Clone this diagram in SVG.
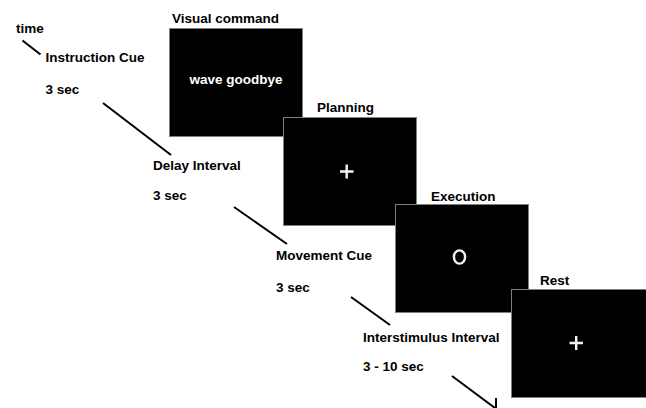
<svg xmlns="http://www.w3.org/2000/svg" width="646" height="408" viewBox="0 0 646 408">
<style>
  .lbl { font-family: "Liberation Sans", Arial, sans-serif; font-weight: bold; font-size: 13.5px; fill: #000; }
  .inner { font-family: "Liberation Sans", Arial, sans-serif; font-weight: bold; font-size: 13.5px; fill: #fff; }
  .screen { fill: #000; stroke: #808080; stroke-width: 1; }
  .sym { stroke: #f4f4f4; stroke-width: 2.4; fill: none; }
  .tl { stroke: #000; stroke-width: 2; fill: none; }
</style>
<rect width="646" height="408" fill="#fff"/>

<g id="timeline-labels">
  <text class="lbl" x="16" y="33">time</text>
  <text class="lbl" x="45.5" y="62">Instruction Cue</text>
  <text class="lbl" x="45.5" y="94">3 sec</text>
  <text class="lbl" x="153" y="170">Delay Interval</text>
  <text class="lbl" x="153" y="200">3 sec</text>
  <text class="lbl" x="276" y="260">Movement Cue</text>
  <text class="lbl" x="276" y="292">3 sec</text>
  <text class="lbl" x="363" y="342">Interstimulus Interval</text>
  <text class="lbl" x="363" y="371">3 - 10 sec</text>
</g>

<g id="connectors">
  <line class="tl" x1="22.5" y1="40.5" x2="40.5" y2="54.5"/>
  <line class="tl" x1="103" y1="103" x2="171" y2="155"/>
  <line class="tl" x1="234" y1="207" x2="287" y2="244"/>
  <line class="tl" x1="351" y1="297" x2="390" y2="325"/>
  <line class="tl" x1="452" y1="376" x2="495" y2="408"/>
  <line class="tl" x1="496" y1="398" x2="496" y2="408"/>
</g>

<g id="visual-command">
  <text class="lbl" x="172" y="23">Visual command</text>
  <rect class="screen" x="169.5" y="28.5" width="133" height="108"/>
  <text class="inner" x="236" y="84" text-anchor="middle">wave goodbye</text>
</g>

<g id="planning">
  <text class="lbl" x="317" y="112">Planning</text>
  <rect class="screen" x="283.5" y="117.5" width="133" height="108"/>
  <path class="sym" d="M340 171.5 H353.5 M346.7 164.5 V178.5"/>
</g>

<g id="execution">
  <text class="lbl" x="431" y="201">Execution</text>
  <rect class="screen" x="395.5" y="204.5" width="133" height="108"/>
  <ellipse class="sym" cx="459.5" cy="257" rx="5.6" ry="6.6" stroke-width="2.2"/>
</g>

<g id="rest">
  <text class="lbl" x="540" y="285">Rest</text>
  <rect class="screen" x="511.5" y="289.5" width="140" height="108"/>
  <path class="sym" d="M569.5 343 H583 M576.2 336 V350"/>
</g>
</svg>
